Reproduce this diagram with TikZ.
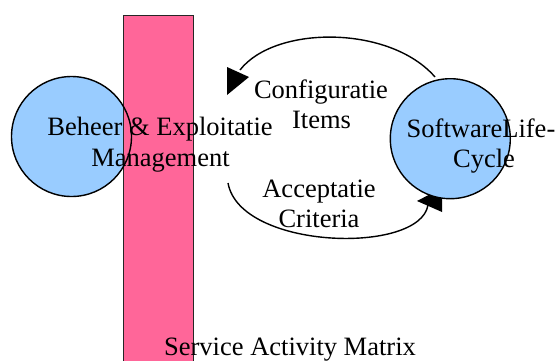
\documentclass[tikz,border=0pt]{standalone}
\usepackage{fontspec}
\setmainfont{Liberation Serif}
\begin{document}
\begin{tikzpicture}[x=1pt,y=-1pt,
  lbl/.style={font=\fontsize{26.5}{30}\selectfont, inner sep=0pt, anchor=base},
  bubble/.style={circle, minimum size=120pt, inner sep=0pt},
  bubblefill/.style={bubble, fill=bluefill, draw=none},
  bubbleline/.style={bubble, draw=black, line width=1.4pt},
  flow/.style={draw=black, line width=1.4pt},
  tipfill/.style={fill=black, draw=none}]
\definecolor{bluefill}{HTML}{99CCFF}
\definecolor{pinkfill}{HTML}{FF6699}
\useasboundingbox (0,0) rectangle (560,360);
% left circle fill, then matrix bar, then outline
\node[bubblefill] (lc) at (71.5,136.5) {};
\node[draw=black!85, line width=1.2pt, fill=pinkfill, minimum width=70pt, minimum height=360pt, inner sep=0pt, anchor=north west] (bar) at (123,15) {};
\node[bubbleline] (lco) at (lc.center) {};
% connectors
\coordinate (ts) at (435,77);
\coordinate (te) at (240,70);
\coordinate (bs) at (228,183);
\coordinate (be) at (428,205);
\draw[flow] (ts) .. controls (390,25) and (275,25) .. (te);
\draw[flow] (bs) .. controls (240,250) and (420,255) .. (be);
\fill[tipfill] (227,67) -- (227,95) -- (249,77) -- cycle;
\fill[tipfill] (417,201) -- (442,188) -- (442,212) -- cycle;
% right circle
\node[bubblefill, draw=black, line width=1.4pt] (rc) at (450.3,138.7) {};
% labels
\node[lbl] (bm1) at (160,135) {Beheer \& Exploitatie};
\node[lbl] (bm2) at (160.5,166) {Management};
\node[lbl] (ci1) at (321,98) {Configuratie};
\node[lbl] (ci2) at (321.5,128) {Items};
\node[lbl] (sl1) at (481,137) {SoftwareLife-};
\node[lbl] (sl2) at (484,167) {Cycle};
\node[lbl] (ac1) at (319,197) {Acceptatie};
\node[lbl] (ac2) at (319,227) {Criteria};
\node[lbl] (sam) at (290,355.5) {Service Activity Matrix};
\end{tikzpicture}
\end{document}
